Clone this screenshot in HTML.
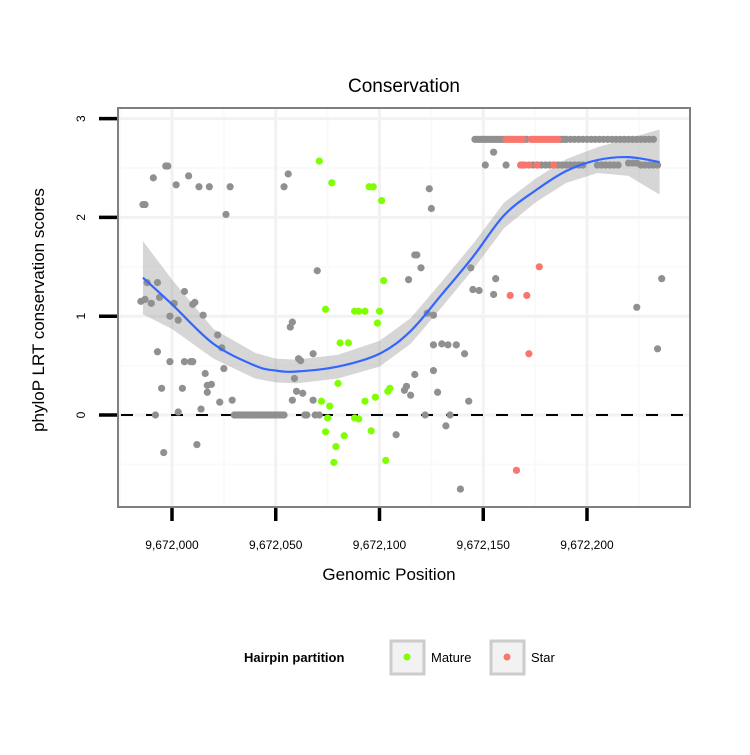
<!DOCTYPE html>
<html><head><meta charset="utf-8"><style>
body{margin:0;background:#fff;font-family:"Liberation Sans",sans-serif}
svg text{font-family:"Liberation Sans",sans-serif}
</style></head><body>
<svg id="c" width="750" height="750" xmlns="http://www.w3.org/2000/svg">
<rect width="750" height="750" fill="#fff"/>
<text x="404" y="92" font-size="19" text-anchor="middle">Conservation</text>
<g id="plot"></g>
<text x="389" y="580" font-size="17" text-anchor="middle">Genomic Position</text>
<text transform="translate(44,310) rotate(-90)" font-size="17" text-anchor="middle">phyloP LRT conservation scores</text>
<g>
<text x="244" y="662" font-size="13" font-weight="bold">Hairpin partition</text>
<rect x="391" y="641" width="33" height="33" fill="#f2f2f2" stroke="#ccc" stroke-width="3"/>
<circle cx="407" cy="657" r="3.5" fill="#7fff00"/>
<text x="431" y="662" font-size="13">Mature</text>
<rect x="491" y="641" width="33" height="33" fill="#f2f2f2" stroke="#ccc" stroke-width="3"/>
<circle cx="507" cy="657" r="3.5" fill="#f8766d"/>
<text x="531" y="662" font-size="13">Star</text>
</g>
</svg>
<script>
const xTicks=[0,50,100,150,200];
const xTickLabels=["9,672,000","9,672,050","9,672,100","9,672,150","9,672,200"];
const yTicks=[0,1,2,3];
const yTickLabels=["0","1","2","3"];
const greyPos=[-14,-13,-9,-3,-2,2,8,13,18,28,26,-13,-12,-7,-15,-10,-6,1,6,10,11,15,-1,3,-7,22,24,25,-1,6,9,10,16,-5,5,17,19,17,23,14,29,-8,3,-4,12,56,54,57,58,70,62,61,68,59,63,58,60,68,
155,124,125,118,117,120,114,144,156,145,148,155,123,126,126,133,130,137,141,117,126,112,115,113,128,143,122,134,132,108,139,224,234,236,
30,31,32,33,34,35,36,37,38,39,40,41,42,43,44,45,46,47,48,49,50,51,52,53,54,64,65,69,71,
146,147,148,149,150,151,152,153,154,155,156,157,158,159,160,170,171,187,188,189,190,192,194,196,198,200,202,204,206,208,210,212,214,216,218,220,222,224,226,228,230,232,
151,161,174,176,178,180,182,184,186,188,190,192,194,196,198,205,207,209,211,213,215,220,222,224,226,228,230,232,234];
const greyVal=[2.13,2.13,2.40,2.52,2.52,2.33,2.42,2.31,2.31,2.31,2.03,1.17,1.34,1.34,1.15,1.13,1.19,1.13,1.25,1.12,1.14,1.01,1.00,0.96,0.64,0.81,0.68,0.47,0.54,0.54,0.54,0.54,0.42,0.27,0.27,0.23,0.31,0.30,0.13,0.06,0.15,0.00,0.03,-0.38,-0.30,2.44,2.31,0.89,0.94,1.46,0.55,0.57,0.62,0.37,0.22,0.15,0.24,0.15,
2.66,2.29,2.09,1.62,1.62,1.49,1.37,1.49,1.38,1.27,1.26,1.22,1.03,1.01,0.71,0.71,0.72,0.71,0.62,0.41,0.45,0.25,0.20,0.29,0.23,0.14,0.00,0.00,-0.11,-0.20,-0.75,1.09,0.67,1.38,
0,0,0,0,0,0,0,0,0,0,0,0,0,0,0,0,0,0,0,0,0,0,0,0,0,0,0,0,0,
2.79,2.79,2.79,2.79,2.79,2.79,2.79,2.79,2.79,2.79,2.79,2.79,2.79,2.79,2.79,2.79,2.79,2.79,2.79,2.79,2.79,2.79,2.79,2.79,2.79,2.79,2.79,2.79,2.79,2.79,2.79,2.79,2.79,2.79,2.79,2.79,2.79,2.79,2.79,2.79,2.79,2.79,
2.53,2.53,2.53,2.53,2.53,2.53,2.53,2.53,2.53,2.53,2.53,2.53,2.53,2.53,2.53,2.53,2.53,2.53,2.53,2.53,2.53,2.55,2.55,2.55,2.53,2.53,2.53,2.53,2.53];
const maturePos=[71,77,95,97,101,102,74,88,90,93,100,99,81,85,80,72,76,75,74,88,90,83,96,79,78,93,98,103,104,105];
const matureVal=[2.57,2.35,2.31,2.31,2.17,1.36,1.07,1.05,1.05,1.05,1.05,0.93,0.73,0.73,0.32,0.14,0.09,-0.03,-0.17,-0.03,-0.04,-0.21,-0.16,-0.32,-0.48,0.14,0.18,-0.46,0.24,0.27];
const starPos=[177,163,171,172,166,161,162,163,164,165,166,167,168,169,173,174,175,176,177,178,179,180,181,182,183,184,185,186,168,169,170,172,176,184];
const starVal=[1.50,1.21,1.21,0.62,-0.56,2.79,2.79,2.79,2.79,2.79,2.79,2.79,2.79,2.79,2.79,2.79,2.79,2.79,2.79,2.79,2.79,2.79,2.79,2.79,2.79,2.79,2.79,2.79,2.53,2.53,2.53,2.53,2.53,2.53];
const fitPos=[-14,0,20,40,50,60,80,100,115,130,145,160,175,190,205,220,235];
const fitVal=[1.39,1.12,0.72,0.50,0.45,0.44,0.49,0.62,0.85,1.22,1.60,2.02,2.27,2.47,2.58,2.61,2.56];
const fitLo=[1.02,0.87,0.57,0.37,0.33,0.32,0.37,0.49,0.72,1.09,1.47,1.89,2.15,2.35,2.45,2.42,2.23];
const fitHi=[1.76,1.37,0.87,0.63,0.57,0.56,0.61,0.75,0.98,1.35,1.73,2.15,2.39,2.59,2.71,2.80,2.89];

const NS='http://www.w3.org/2000/svg';
const X=p=>172+p*2.075, Y=v=>415-v*98.8;
const L=118,R=690,T=108,B=507;
const g=document.getElementById('plot');
function mk(t,a){const e=document.createElementNS(NS,t);for(const k in a)e.setAttribute(k,a[k]);g.appendChild(e);return e;}
const bg=mk('rect',{x:L,y:T,width:R-L,height:B-T,fill:'#fff'});


for(let i=-1;i<xTicks.length;i++){const m=X(xTicks[Math.max(i,0)]+(i<0?-25:25));if(m>L&&m<R)mk('line',{x1:m,x2:m,y1:T,y2:B,stroke:'#fafafa','stroke-width':2});}
for(const v of [-0.5,0.5,1.5,2.5]){mk('line',{x1:L,x2:R,y1:Y(v),y2:Y(v),stroke:'#fafafa','stroke-width':2});}
xTicks.forEach(t=>{const gl=mk('line',{x1:X(t),x2:X(t),y1:T,y2:B,stroke:'#f2f2f2','stroke-width':3});});
yTicks.forEach(t=>{const gl=mk('line',{x1:L,x2:R,y1:Y(t),y2:Y(t),stroke:'#f2f2f2','stroke-width':3});});
// band
let d='M'+fitPos.map((p,i)=>X(p)+','+Y(fitHi[i])).join('L');
for(let i=fitPos.length-1;i>=0;i--)d+='L'+X(fitPos[i])+','+Y(fitLo[i]);
const band=mk('path',{d:d+'Z',fill:'#999','fill-opacity':0.4});


const zl=mk('line',{x1:L,x2:R,y1:Y(0),y2:Y(0),stroke:'#000','stroke-width':2,'stroke-dasharray':'12,13','stroke-dashoffset':-3});


function pts(P,V,col,name){P.forEach((p,i)=>{const c=mk('circle',{cx:X(p),cy:Y(V[i]),r:3.6,fill:col});

});}
pts(greyPos,greyVal,'#909090','point-other');
// smooth line (catmull-rom)
const pp=fitPos.map((p,i)=>[X(p),Y(fitVal[i])]);
let s='M'+pp[0];
for(let i=0;i<pp.length-1;i++){const p0=pp[Math.max(i-1,0)],p1=pp[i],p2=pp[i+1],p3=pp[Math.min(i+2,pp.length-1)];
s+='C'+(p1[0]+(p2[0]-p0[0])/6)+','+(p1[1]+(p2[1]-p0[1])/6)+' '+(p2[0]-(p3[0]-p1[0])/6)+','+(p2[1]-(p3[1]-p1[1])/6)+' '+p2;}
pts(maturePos,matureVal,'#7fff00','point-mature');
pts(starPos,starVal,'#f8766d','point-star');
const ln=mk('path',{d:s,fill:'none',stroke:'#3366ff','stroke-width':2.2});


const bd=mk('rect',{x:L,y:T,width:R-L,height:B-T,fill:'none',stroke:'#7f7f7f','stroke-width':2});


xTicks.forEach((t,i)=>{mk('line',{x1:X(t),x2:X(t),y1:B+1,y2:B+14,stroke:'#000','stroke-width':3.5});
const tx=mk('text',{x:X(t),y:549,'font-size':12,'text-anchor':'middle'});tx.textContent=xTickLabels[i];

});
yTicks.forEach((t,i)=>{mk('line',{x1:99,x2:L-1,y1:Y(t),y2:Y(t),stroke:'#000','stroke-width':3.5});
const tx=mk('text',{x:0,y:0,'font-size':12,'text-anchor':'middle',transform:`translate(85,${Y(t)}) rotate(-90)`});tx.textContent=yTickLabels[i];

});
</script>
</body></html>
